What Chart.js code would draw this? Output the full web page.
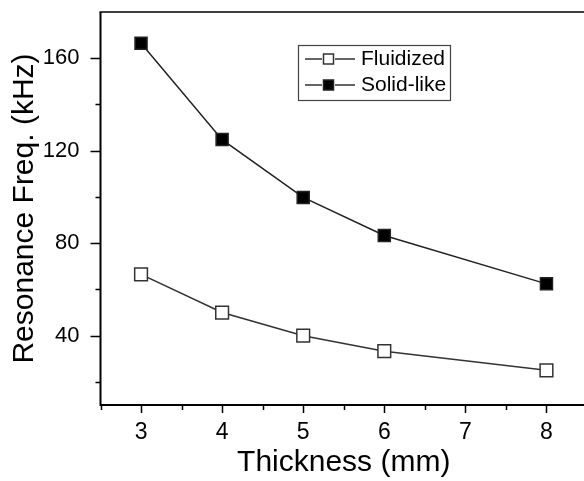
<!DOCTYPE html>
<html><head><meta charset="utf-8">
<script src="https://cdn.jsdelivr.net/npm/chart.js@4/dist/chart.umd.min.js"></script>
<style>
html,body{margin:0;padding:0;overflow:hidden;background:#fff;width:584px;height:481px}
#wrap{position:absolute;left:0;top:0;width:600px;height:481px}
</style>
</head><body><div id="wrap"><canvas id="c" width="600" height="481"></canvas></div>
<script>
const thickness = [3, 4, 5, 6, 8];
const fluidized = [66.5, 50, 40, 33.3, 25];
const solidLike = [166.5, 124.8, 99.8, 83.3, 62.4];
const seriesNames = ['Fluidized', 'Solid-like'];
const xTicks = [2.5, 3, 3.5, 4, 4.5, 5, 5.5, 6, 6.5, 7, 7.5, 8, 8.5];
const xLabels = [3, 4, 5, 6, 7, 8];
const yTicks = [20, 40, 60, 80, 100, 120, 140, 160];
const yLabels = [40, 80, 120, 160];
const xTitle = 'Thickness (mm)';
const yTitle = 'Resonance Freq. (kHz)';

const FONT = "'Liberation Sans', Arial, Helvetica, sans-serif";
const toPts = (ys) => thickness.map((x, i) => ({x: x, y: ys[i]}));

const framePlugin = {
  id: 'frame',
  afterDraw(chart) {
    const ctx = chart.ctx, a = chart.chartArea;
    const xs = chart.scales.x, ys = chart.scales.y;
    ctx.save();
    ctx.strokeStyle = '#000';
    ctx.lineWidth = 2;
    ctx.beginPath();
    ctx.moveTo(a.left, a.top); ctx.lineTo(a.left, a.bottom);
    ctx.moveTo(a.left - 1, a.bottom); ctx.lineTo(a.right, a.bottom);
    ctx.stroke();
    ctx.lineWidth = 1.5;
    ctx.beginPath();
    ctx.moveTo(a.left - 1, a.top); ctx.lineTo(a.right, a.top); ctx.lineTo(a.right, a.bottom);
    ctx.stroke();
    ctx.lineWidth = 1.5;
    ctx.beginPath();
    xTicks.forEach(v => {
      const p = Math.round(xs.getPixelForValue(v)) + 0.5;
      const len = xLabels.includes(v) ? 8 : 5;
      ctx.moveTo(p, a.bottom); ctx.lineTo(p, a.bottom + len);
    });
    yTicks.forEach(v => {
      const p = Math.round(ys.getPixelForValue(v)) + 0.5;
      const len = yLabels.includes(v) ? 10 : 5;
      ctx.moveTo(a.left, p); ctx.lineTo(a.left - len, p);
    });
    ctx.stroke();

    // legend
    const bx = 298, by = 45, bw = 152, bh = 55;
    ctx.lineWidth = 1.2;
    ctx.strokeStyle = '#444';
    ctx.strokeRect(bx + 0.5, by + 0.5, bw, bh);
    const rows = [by + 14, by + 40];
    chart.data.datasets.forEach((ds, i) => {
      const y = rows[i];
      ctx.strokeStyle = '#333';
      ctx.lineWidth = 1.5;
      ctx.beginPath();
      ctx.moveTo(bx + 7, y); ctx.lineTo(bx + 24, y);
      ctx.moveTo(bx + 37, y); ctx.lineTo(bx + 57, y);
      ctx.stroke();
      ctx.fillStyle = ds.pointBackgroundColor;
      ctx.fillRect(bx + 25.5, y - 5, 10, 10);
      ctx.strokeStyle = ds.pointBorderColor;
      ctx.strokeRect(bx + 25.5, y - 5, 10, 10);
      ctx.fillStyle = '#000';
      ctx.font = '21px ' + FONT;
      ctx.textBaseline = 'middle';
      ctx.textAlign = 'left';
      ctx.fillText(ds.label, bx + 63, y);
    });
    ctx.restore();
  }
};

new Chart(document.getElementById('c'), {
  type: 'line',
  data: {
    datasets: [
      {
        label: seriesNames[0], data: toPts(fluidized),
        borderColor: '#333', borderWidth: 1.5, tension: 0,
        pointStyle: 'rect', pointRadius: 9, pointBorderWidth: 1.5,
        pointBackgroundColor: '#fff', pointBorderColor: '#333'
      },
      {
        label: seriesNames[1], data: toPts(solidLike),
        borderColor: '#222', borderWidth: 1.5, tension: 0,
        pointStyle: 'rect', pointRadius: 8.5, pointBorderWidth: 1.5,
        pointBackgroundColor: '#000', pointBorderColor: '#222'
      }
    ]
  },
  options: {
    responsive: false, animation: false, devicePixelRatio: 1,
    layout: {padding: {left: 0, right: 13, top: 12, bottom: 0}},
    plugins: {legend: {display: false}, tooltip: {enabled: false}},
    scales: {
      x: {
        type: 'linear', position: 'bottom', min: 2.5, max: 8.5,
        grid: {display: false}, border: {display: false},
        afterBuildTicks: s => { s.ticks = xTicks.map(v => ({value: v})); },
        afterFit: s => { s.height = 76; s.paddingLeft = 0; s.paddingRight = 0; },
        ticks: {
          autoSkip: false, maxRotation: 0, padding: 6, color: '#000',
          font: {family: FONT, size: 23},
          callback: v => xLabels.includes(v) ? String(v) : ''
        },
        title: {display: true, text: xTitle, color: '#000', font: {family: FONT, size: 30}, padding: {top: 0, bottom: 0}}
      },
      y: {
        type: 'linear', position: 'left', min: 10, max: 180,
        grid: {display: false}, border: {display: false},
        afterBuildTicks: s => { s.ticks = yTicks.map(v => ({value: v})); },
        afterFit: s => { s.width = 100.5; s.paddingTop = 0; s.paddingBottom = 0; },
        ticks: {
          autoSkip: false, padding: 13, color: '#000',
          font: {family: FONT, size: 22},
          callback: v => yLabels.includes(v) ? String(v) : ''
        },
        title: {display: true, text: yTitle, color: '#000', font: {family: FONT, size: 30}, padding: {top: 7, bottom: 0}}
      }
    }
  },
  plugins: [framePlugin]
});
</script>
</body></html>
